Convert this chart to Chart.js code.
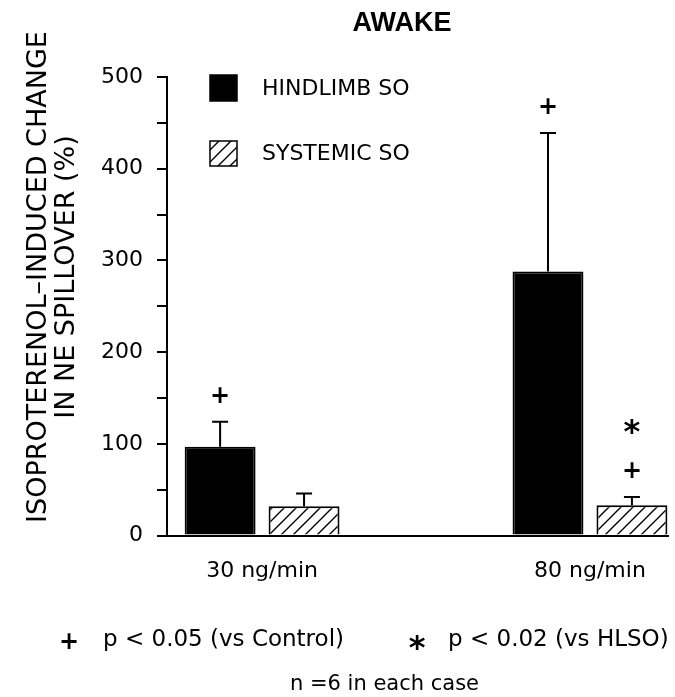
<!DOCTYPE html>
<html>
<head>
<meta charset="utf-8">
<title>AWAKE</title>
<script src="https://cdn.jsdelivr.net/npm/chart.js@4.4.0/dist/chart.umd.min.js"></script>
<style>
  html, body { margin: 0; padding: 0; background: #fff; }
</style>
</head>
<body>
<canvas id="chart" width="675" height="697"></canvas>
<script>
// values (% change in NE spillover)
const doses = ['30 ng/min', '80 ng/min'];
const hindlimb = [97, 288];
const hindlimbErr = [27, 151];
const systemic = [32, 33];
const systemicErr = [14, 9];
// significance marks above each bar, bottom to top
const hindlimbMarks = [['+'], ['+']];
const systemicMarks = [[], ['+', '*']];
const yMax = 500;
const yStep = 50;
const yLabelStep = 100;

const titleText = 'AWAKE';
const yTitle = ['ISOPROTERENOL\u2013INDUCED CHANGE', 'IN NE SPILLOVER (%)'];
const notes = ['p < 0.05 (vs Control)', 'p < 0.02 (vs HLSO)', 'n =6 in each case'];

const FONT = 'DejaVu Sans';

// diagonal hatch for systemic bars
function makeHatch() {
    const c = document.createElement('canvas');
    c.width = 12;
    c.height = 12;
    const g = c.getContext('2d');
    g.fillStyle = '#fff';
    g.fillRect(0, 0, 12, 12);
    g.strokeStyle = '#000';
    g.lineWidth = 1.4;
    g.beginPath();
    g.moveTo(0, 12); g.lineTo(12, 0);
    g.moveTo(-6, 6); g.lineTo(6, -6);
    g.moveTo(6, 18); g.lineTo(18, 6);
    g.stroke();
    return g.createPattern(c, 'repeat');
}
const hatch = makeHatch();

function drawMark(ctx, sym, x, cy) {
    ctx.fillStyle = '#000';
    ctx.textAlign = 'center';
    ctx.textBaseline = 'alphabetic';
    if (sym === '*') {
        ctx.font = 'bold 32px ' + FONT;
        ctx.fillText('*', x, cy + 14);
    } else {
        ctx.font = 'bold 24px ' + FONT;
        ctx.fillText('+', x, cy + 9);
    }
}

// error bars, marks, legend and texts
const decor = {
    id: 'decor',
    afterDatasetsDraw(chart) {
        const ctx = chart.ctx;
        const y = chart.scales.y;
        ctx.save();
        ctx.strokeStyle = '#000';
        ctx.lineWidth = 2;
        chart.data.datasets.forEach((ds, di) => {
            chart.getDatasetMeta(di).data.forEach((bar, i) => {
                const top = y.getPixelForValue(ds.data[i].y + ds.err[i]);
                ctx.beginPath();
                ctx.moveTo(bar.x, bar.y);
                ctx.lineTo(bar.x, top);
                ctx.moveTo(bar.x - 8, top);
                ctx.lineTo(bar.x + 8, top);
                ctx.stroke();
                ds.marks[i].forEach((m, k) => {
                    drawMark(ctx, m, bar.x, top - 28 - k * 41);
                });
            });
        });
        ctx.restore();
    },
    afterDraw(chart) {
        const ctx = chart.ctx;
        ctx.save();
        ctx.fillStyle = '#000';

        // title
        ctx.font = 'bold 27px "Liberation Sans"';
        ctx.textAlign = 'center';
        ctx.textBaseline = 'middle';
        ctx.fillText(titleText, 402, 24);

        // y axis title
        ctx.font = '27px ' + FONT;
        yTitle.forEach((line, i) => {
            ctx.save();
            ctx.translate(39 + i * 28, 277);
            ctx.rotate(-Math.PI / 2);
            ctx.fillText(line, 0, 0);
            ctx.restore();
        });

        // legend
        const sets = chart.data.datasets;
        const boxes = [[75, 26], [141, 25]];
        ctx.textAlign = 'left';
        ctx.font = '22px ' + FONT;
        sets.forEach((ds, i) => {
            const [by, bh] = boxes[i];
            ctx.fillStyle = ds.backgroundColor;
            ctx.fillRect(210, by, 27, bh);
            ctx.strokeStyle = '#000';
            ctx.lineWidth = 1.5;
            ctx.strokeRect(210, by, 27, bh);
            ctx.fillStyle = '#000';
            ctx.fillText(ds.label, 262, by + bh / 2 + 1);
        });

        // footnotes
        ctx.font = '23px ' + FONT;
        ctx.fillText(notes[0], 103, 640);
        ctx.fillText(notes[1], 448, 640);
        ctx.font = '21px ' + FONT;
        ctx.fillText(notes[2], 290, 685);
        drawMark(ctx, '+', 69, 640);
        drawMark(ctx, '*', 417, 644);
        ctx.restore();
    }
};

new Chart(document.getElementById('chart'), {
    type: 'bar',
    data: {
        datasets: [{
            label: 'HINDLIMB SO',
            data: hindlimb.map((v, i) => ({ x: i, y: v })),
            err: hindlimbErr,
            marks: hindlimbMarks,
            backgroundColor: '#000',
            borderColor: '#000',
            borderWidth: 2,
            categoryPercentage: 0.512,
            barPercentage: 0.845
        }, {
            label: 'SYSTEMIC SO',
            data: systemic.map((v, i) => ({ x: i, y: v })),
            err: systemicErr,
            marks: systemicMarks,
            backgroundColor: hatch,
            borderColor: '#000',
            borderWidth: 2,
            categoryPercentage: 0.512,
            barPercentage: 0.845
        }]
    },
    options: {
        responsive: false,
        animation: false,
        layout: { padding: { top: 77, left: 87, right: 7, bottom: 91 } },
        plugins: {
            legend: { display: false },
            tooltip: { enabled: false }
        },
        scales: {
            x: {
                type: 'linear',
                min: -0.29,
                max: 1.238,
                offset: false,
                bounds: 'data',
                grid: { display: false, drawTicks: false, offset: false },
                border: { display: true, color: '#000', width: 2 },
                afterBuildTicks: (s) => { s.ticks = doses.map((d, i) => ({ value: i })); },
                ticks: {
                    callback: (v) => doses[v],
                    padding: 22,
                    color: '#000',
                    maxRotation: 0,
                    autoSkip: false,
                    font: { family: FONT, size: 22 }
                }
            },
            y: {
                min: 0,
                max: yMax,
                grid: { drawOnChartArea: false, drawTicks: true, tickLength: 10, color: '#000', lineWidth: 2 },
                border: { color: '#000', width: 2 },
                ticks: {
                    stepSize: yStep,
                    callback: (v) => (v % yLabelStep === 0 ? v : ''),
                    padding: 14,
                    color: '#000',
                    font: { family: FONT, size: 22 }
                }
            }
        }
    },
    plugins: [decor]
});
</script>
</body>
</html>
